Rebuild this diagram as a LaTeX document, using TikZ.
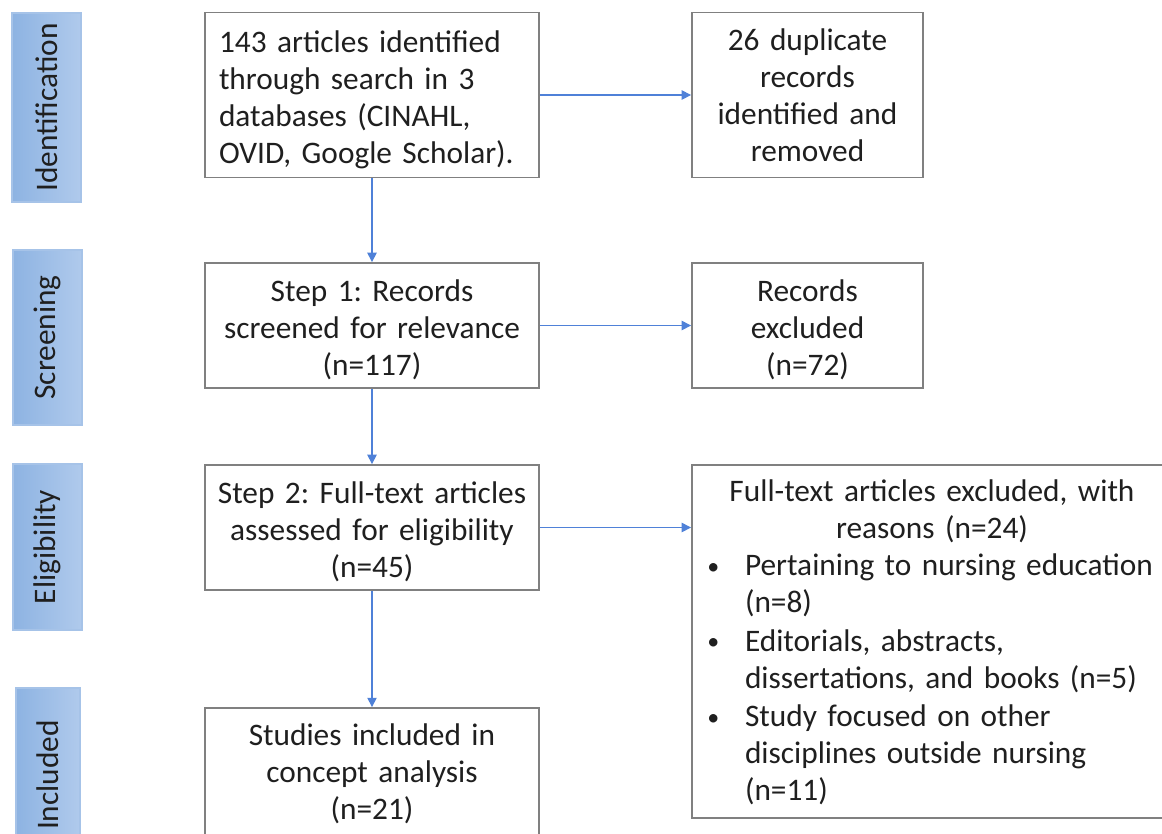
\documentclass[tikz,border=0pt]{standalone}
\usepackage{fontspec}
\setmainfont{Carlito}
\usetikzlibrary{arrows.meta}
\definecolor{txt}{HTML}{1F1F1F}
\definecolor{boxline}{HTML}{808080}
\definecolor{arr}{HTML}{4F81D8}
\definecolor{sidetop}{HTML}{B0CAEC}
\definecolor{sidebot}{HTML}{8DB3E2}
\definecolor{sideline}{HTML}{A6C3E8}
\frenchspacing
\newcommand{\topstrut}[1]{\rule{0pt}{#1}}
\newcommand{\bitem}[1]{\noindent\makebox[29.25pt][l]{\hspace{1pt}\raisebox{1pt}{\fontsize{18}{18}\selectfont\textbullet}}\begin{tabular}[t]{@{}l@{}}#1\end{tabular}\par}
\begin{document}
\begin{tikzpicture}[x=0.75pt,y=-0.75pt,
  font=\fontsize{23.5}{27.75}\selectfont, text=txt,
  flowbox/.style={draw=boxline, line width=1.4pt, inner ysep=0pt, inner xsep=10.5pt, align=center},
  side/.style={rotate=90, draw=sideline, line width=0.8pt, left color=sidebot, right color=sidetop, inner sep=0pt},
  link/.style={draw=arr, line width=1pt, -{Triangle[length=7pt,width=7pt]}}
]
\useasboundingbox (0,0) rectangle (1162,833);
\clip (0,0) rectangle (1162,833);

% stage labels
\node[side, minimum width=141.75pt, minimum height=51.75pt] (s1) at (46.5,107.5) {Identification};
\node[side, minimum width=131.25pt, minimum height=51.75pt] (s2) at (47.5,337.5) {Screening};
\node[side, minimum width=124.5pt, minimum height=51.75pt] (s3) at (47.5,547) {Eligibility};
\node[side, minimum width=130.5pt, minimum height=48pt] (s4) at (48,775) {Included};

% main column
\node[flowbox, align=left, text width=229.5pt, minimum width=250.5pt, minimum height=123.75pt] (b1) at (372,95)
  {\topstrut{23.5pt}143 articles identified\\through search in 3\\databases (CINAHL,\\OVID, Google Scholar).};
\node[flowbox, text width=245pt, inner xsep=2pt, minimum width=250.5pt, minimum height=93.75pt] (b3) at (372,325.5)
  {\topstrut{22pt}Step 1: Records\\screened for relevance\\(n=117)};
\node[flowbox, text width=245pt, inner xsep=2pt, minimum width=250.5pt, minimum height=93.75pt] (b5) at (372,527.5)
  {\topstrut{22pt}Step 2: Full-text articles\\assessed for eligibility\\(n=45)};
\node[flowbox, text width=245pt, inner xsep=2pt, minimum width=250.5pt, minimum height=99pt] (b7) at (372,774)
  {Studies included in\\concept analysis\\(n=21)};

% right column
\node[flowbox, text width=152.25pt, minimum width=173.25pt, minimum height=123.75pt] (b2) at (807.5,95)
  {26 duplicate\\records\\identified and\\removed};
\node[flowbox, text width=152.25pt, minimum width=173.25pt, minimum height=93.75pt] (b4) at (807.5,325.5)
  {\topstrut{22pt}Records\\excluded\\(n=72)};
\node[flowbox, align=left, text width=339pt, minimum width=360pt, minimum height=264.75pt] (b6) at (932,641.5)
  {{\centering\topstrut{23pt}Full-text articles excluded, with\\reasons (n=24)\par}
   \bitem{Pertaining to nursing education\\(n=8)}
   \bitem{Editorials, abstracts,\\dissertations, and books (n=5)}
   \bitem{Study focused on other\\disciplines outside nursing\\(n=11)}};

% connectors
\draw[link] (b1) -- (b2);
\draw[link] (b1) -- (b3);
\draw[link] (b3) -- (b4);
\draw[link] (b3) -- (b5);
\draw[link] (b5.east) -- (b5.east -| b6.west);
\draw[link] (b5) -- (b7);
\end{tikzpicture}
\end{document}
